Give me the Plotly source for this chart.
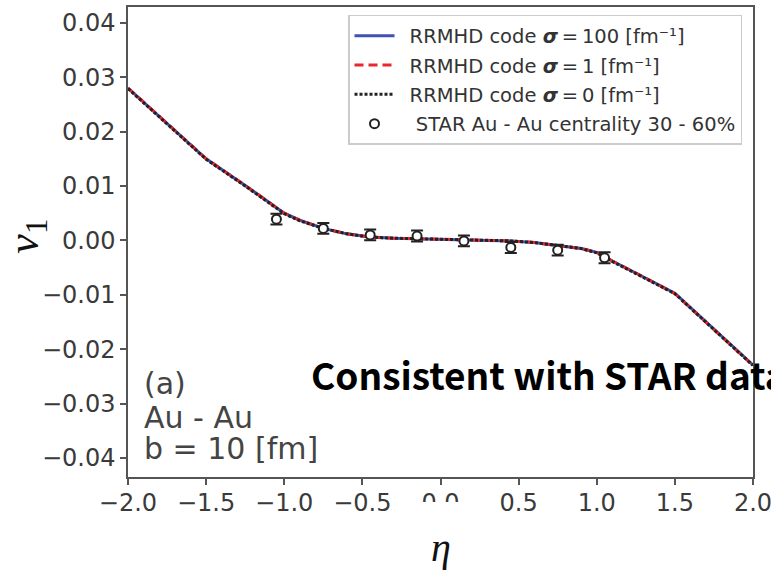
import plotly.graph_objects as go

# Pseudorapidity grid and directed flow from the RRMHD runs
eta = [-2.0, -1.75, -1.5, -1.25, -1.1, -1.0, -0.9, -0.75, -0.6, -0.45, -0.3,
       -0.15, 0.0, 0.15, 0.3, 0.45, 0.6, 0.75, 0.9, 1.0, 1.1, 1.25, 1.5, 1.75, 2.0]
v1_sigma100 = [0.0280, 0.0215, 0.0150, 0.0101, 0.0070, 0.0050, 0.0037, 0.0022,
               0.0012, 0.0006, 0.0004, 0.0003, 0.0002, 0.0001, 0.0000, -0.0001, -0.0004,
               -0.0009, -0.0015, -0.0022, -0.0038, -0.0060, -0.0097, -0.0163, -0.0229]
v1_sigma1 = [0.0280, 0.0215, 0.0150, 0.0101, 0.0070, 0.0050, 0.0037, 0.0022,
             0.0012, 0.0006, 0.0004, 0.0003, 0.0002, 0.0001, 0.0000, -0.0001, -0.0004,
             -0.0009, -0.0015, -0.0022, -0.0038, -0.0060, -0.0098, -0.0164, -0.0230]
v1_sigma0 = [0.0279, 0.0214, 0.0149, 0.0100, 0.0069, 0.0049, 0.0036, 0.0022,
             0.0012, 0.0006, 0.0004, 0.0003, 0.0002, 0.0001, 0.0000, -0.0001, -0.0004,
             -0.0009, -0.0015, -0.0023, -0.0039, -0.0061, -0.0098, -0.0164, -0.0230]

# STAR Au-Au 30-60% measurement
star_eta = [-1.05, -0.75, -0.45, -0.15, 0.15, 0.45, 0.75, 1.05]
star_v1 = [0.0039, 0.0022, 0.0010, 0.0008, -0.0001, -0.0013, -0.0018, -0.0032]
star_err = [0.0010, 0.0010, 0.0010, 0.0010, 0.0010, 0.0010, 0.0010, 0.0010]

y_ticks = [-0.04, -0.03, -0.02, -0.01, 0.0, 0.01, 0.02, 0.03, 0.04]
x_ticks = [-2.0, -1.5, -1.0, -0.5, 0.0, 0.5, 1.0, 1.5, 2.0]
x_ticktext = ["−2.0", "−1.5", "−1.0", "−0.5", "0.0", "0.5", "1.0", "1.5", "2.0"]

sig = "<b><i>σ</i></b>"
pad = "\u00a0\u2009"
fig = go.Figure()
fig.add_trace(go.Scatter(
    x=eta, y=v1_sigma100, mode="lines", legendgroup="a",
    name=f"{pad}RRMHD code {sig}\u2009=\u2009100 [fm⁻¹]",
    line=dict(color="#3f51b5", width=3)))
fig.add_trace(go.Scatter(
    x=eta, y=v1_sigma1, mode="lines", legendgroup="b",
    name=f"{pad}RRMHD code {sig}\u2009=\u20091 [fm⁻¹]",
    line=dict(color="#e8282e", width=3, dash="9px,5px")))
fig.add_trace(go.Scatter(
    x=eta, y=v1_sigma0, mode="lines", legendgroup="c",
    name=f"{pad}RRMHD code {sig}\u2009=\u20090 [fm⁻¹]",
    line=dict(color="#222222", width=3, dash="3px,2px")))
fig.add_trace(go.Scatter(
    x=star_eta, y=star_v1, mode="markers", legendgroup="d",
    name=f"{pad}\u00a0STAR Au - Au centrality 30 - 60%",
    marker=dict(symbol="circle", size=9, color="white",
                line=dict(color="#222222", width=2)),
    error_y=dict(type="data", array=star_err, visible=True,
                 color="#222222", thickness=2, width=6)))

axis_common = dict(
    showgrid=False, zeroline=False, showline=True, mirror=True,
    linecolor="#555555", linewidth=1.5, ticks="outside", ticklen=6,
    tickwidth=1.5, tickcolor="#555555", automargin=False,
    tickfont=dict(family="DejaVu Sans", size=24, color="#3a3a3a"),
)

fig.update_layout(
    width=771, height=570,
    margin=dict(l=128, r=18, t=7, b=93, autoexpand=False),
    paper_bgcolor="white", plot_bgcolor="white",
    xaxis=dict(range=[-2.0, 2.0], tickvals=x_ticks, ticktext=x_ticktext,
               ticklabelstandoff=-3, ticklabeloverflow="allow", **axis_common),
    yaxis=dict(range=[-0.0435, 0.0429], tickvals=y_ticks, tickformat=".2f", **axis_common),
    legend=dict(x=0.352, y=0.983, xanchor="left", yanchor="top",
                bgcolor="white", bordercolor="#cccccc", borderwidth=1.5,
                font=dict(family="DejaVu Sans", size=19.5, color="#333333"),
                tracegroupgap=1, itemwidth=40),
    showlegend=True,
)

# axis titles
fig.add_annotation(text="<i>η</i>", xref="paper", yref="paper", x=0.5, y=-0.149,
                   xanchor="center", yanchor="middle", showarrow=False,
                   font=dict(family="Liberation Serif", size=40, color="#111111"))
fig.add_annotation(text="<i>v</i><sub>1</sub>", xref="paper", yref="paper",
                   x=-0.162, y=0.513, xanchor="center", yanchor="middle",
                   textangle=-90, showarrow=False,
                   font=dict(family="Liberation Serif", size=44, color="#111111"))

# white patch over the lower half of the central tick label
fig.add_shape(type="rect", xref="paper", yref="paper", x0=0.468, x1=0.535,
              y0=-0.09, y1=-0.053, fillcolor="white", line=dict(width=0),
              layer="above")

label_font = dict(family="DejaVu Sans", size=30, color="#444444")
for txt, ypos in [("(a)", 0.198), ("Au - Au", 0.127), ("b = 10 [fm]", 0.060)]:
    fig.add_annotation(text=txt, xref="paper", yref="paper", x=0.022, y=ypos,
                       xanchor="left", yanchor="middle", showarrow=False,
                       font=label_font)

fig.add_annotation(text="<b>Consistent with STAR data</b>", xref="paper", yref="paper",
                   x=0.289, y=0.22, xanchor="left", yanchor="middle", showarrow=False,
                   font=dict(family="Noto Sans CJK JP", size=37, color="#000000"))

fig.write_html("out.html")
